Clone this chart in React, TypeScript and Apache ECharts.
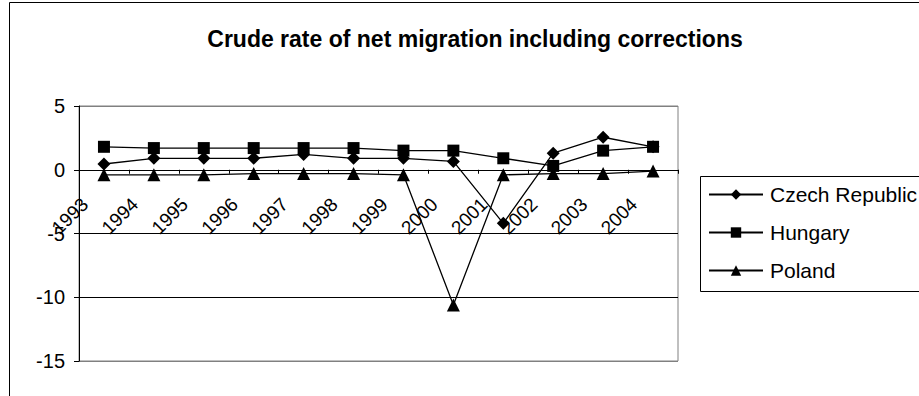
import React, { useEffect, useRef } from "react";
import * as echarts from "echarts";

const years = ["1993", "1994", "1995", "1996", "1997", "1998", "1999", "2000", "2001", "2002", "2003", "2004"];
const czech = [0.45, 0.9, 0.9, 0.9, 1.2, 0.9, 0.9, 0.65, -4.2, 1.3, 2.55, 1.8];
const hungary = [1.8, 1.7, 1.7, 1.7, 1.7, 1.7, 1.5, 1.5, 0.9, 0.3, 1.5, 1.8];
const poland = [-0.4, -0.4, -0.4, -0.3, -0.3, -0.3, -0.4, -10.6, -0.4, -0.3, -0.3, -0.1];
const seriesNames = ["Czech Republic", "Hungary", "Poland"];
const symbols = ["diamond", "rect", "triangle"];
const symbolSizes = [13, 12, 13];

const FONT = "'Liberation Sans', Arial, sans-serif";

export default function App() {
  const ref = useRef<HTMLDivElement>(null);
  useEffect(() => {
    if (!ref.current) return;
    const chart = echarts.init(ref.current, undefined, { renderer: "svg" });
    const data = [czech, hungary, poland];
    chart.setOption({
      animation: false,
      backgroundColor: "#fff",
      title: {
        text: "Crude rate of net migration including corrections",
        left: 470,
        top: 22,
        textAlign: "center",
        textStyle: { fontFamily: FONT, fontSize: 23, fontWeight: "bold", color: "#000" },
      },
      graphic: [
        { type: "rect", shape: { x: 9.5, y: 2.5, width: 1000, height: 1000 }, style: { fill: "none", stroke: "#000", lineWidth: 1 } },
        { type: "rect", shape: { x: 700.5, y: 176.5, width: 300, height: 115 }, style: { fill: "none", stroke: "#000", lineWidth: 1 } },
      ],
      legend: {
        orient: "vertical",
        left: 708,
        top: 184,
        itemWidth: 54,
        itemHeight: 13,
        itemGap: 17,
        padding: 0,
        textStyle: { fontFamily: FONT, fontSize: 21, color: "#000", padding: [0, 0, 0, 2] },
        data: seriesNames,
      },
      grid: { left: 79, top: 106, right: 241, bottom: 35, show: true, borderColor: "#808080", borderWidth: 1, outerBoundsMode: "none", containLabel: false },
      xAxis: [
        {
          type: "category",
          data: years,
          boundaryGap: true,
          axisLine: { onZero: true, lineStyle: { color: "#000", width: 1 } },
          axisTick: { show: true, length: 4, inside: false, lineStyle: { color: "#000" } },
          axisLabel: { show: false },
        },
        {
          type: "category",
          data: years,
          position: "bottom",
          offset: -191,
          boundaryGap: true,
          axisLine: { show: false, onZero: false },
          axisTick: { show: false },
          axisLabel: {
            rotate: 45,
            interval: 0,
            margin: 12,
            padding: [0, 27, 0, 0],
            fontFamily: FONT,
            fontSize: 19,
            color: "#000",
          },
        },
      ],
      yAxis: {
        type: "value",
        min: -15,
        max: 5,
        interval: 5,
        axisLine: { show: true, lineStyle: { color: "#000" } },
        axisTick: { show: true, length: 5, lineStyle: { color: "#000" } },
        axisLabel: { fontFamily: FONT, fontSize: 20, color: "#000", margin: 14 },
        splitLine: { show: true, lineStyle: { color: ["#808080", "#000", "#000", "#000", "#808080"], width: 1 } },
      },
      series: seriesNames.map((name, i) => ({
        name,
        type: "line",
        data: data[i],
        symbol: symbols[i],
        symbolSize: symbolSizes[i],
        showAllSymbol: true,
        lineStyle: { color: "#000", width: 1.3 },
        itemStyle: { color: "#000" },
        z: 3 - i,
      })),
    });
    return () => chart.dispose();
  }, []);
  return <div ref={ref} style={{ position: "fixed", left: 0, top: 0, width: 919, height: 396 }} />;
}
